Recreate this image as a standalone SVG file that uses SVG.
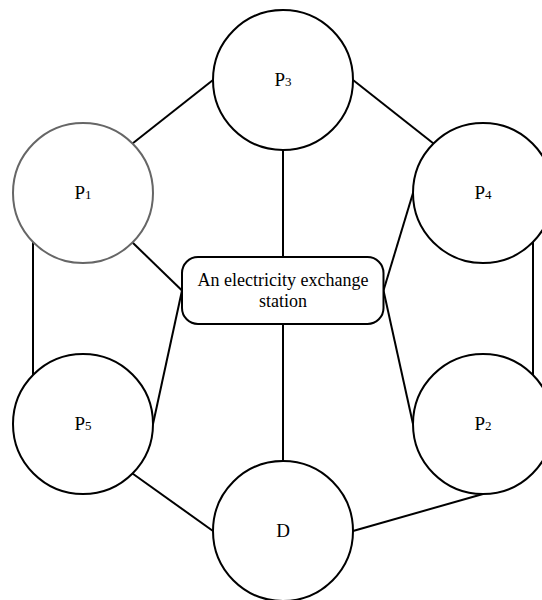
<svg xmlns="http://www.w3.org/2000/svg" width="542" height="600" viewBox="0 0 542 600">
<style>
.node{fill:#fff;stroke:#000;stroke-width:2}
.gray{stroke:#666}
.lbl{font-family:"Liberation Serif","Times New Roman",serif;font-size:19px;fill:#000;text-anchor:middle}
.sub{font-size:13px}
.box{font-family:"Liberation Serif","Times New Roman",serif;font-size:18px;fill:#000;text-anchor:middle}
#edges line{stroke:#000;stroke-width:2}
</style>
<rect width="542" height="600" fill="#fff"/>
<g id="edges">
<line x1="132.5" y1="143.5" x2="213" y2="80"/>
<line x1="353" y1="80" x2="433.5" y2="143.5"/>
<line x1="283" y1="150" x2="283" y2="257"/>
<line x1="132.5" y1="242.5" x2="182" y2="290.5"/>
<line x1="153" y1="424" x2="182" y2="290.5"/>
<line x1="413" y1="193" x2="383.5" y2="290.5"/>
<line x1="413" y1="424" x2="383.5" y2="290.5"/>
<line x1="283" y1="324" x2="283" y2="461"/>
<line x1="33" y1="242" x2="33" y2="375"/>
<line x1="533" y1="242" x2="533" y2="375"/>
<line x1="132.5" y1="473.5" x2="213" y2="531"/>
<line x1="353" y1="531" x2="483" y2="494"/>
</g>
<g id="P3"><circle class="node" cx="283" cy="80" r="70"/><text class="lbl" x="283" y="86">P<tspan class="sub">3</tspan></text></g>
<g id="P1"><circle class="node gray" cx="83" cy="193" r="70"/><text class="lbl" x="83" y="199">P<tspan class="sub">1</tspan></text></g>
<g id="P4"><circle class="node" cx="483" cy="193" r="70"/><text class="lbl" x="483" y="199">P<tspan class="sub">4</tspan></text></g>
<g id="P5"><circle class="node" cx="83" cy="424" r="70"/><text class="lbl" x="83" y="430">P<tspan class="sub">5</tspan></text></g>
<g id="P2"><circle class="node" cx="483" cy="424" r="70"/><text class="lbl" x="483" y="430">P<tspan class="sub">2</tspan></text></g>
<g id="D"><circle class="node" cx="283" cy="531" r="70"/><text class="lbl" x="283" y="537">D</text></g>
<g id="station"><rect class="node" x="182" y="257" width="201.5" height="67" rx="16"/><text class="box" x="283" y="286">An electricity exchange</text><text class="box" x="283" y="307">station</text></g>
</svg>
